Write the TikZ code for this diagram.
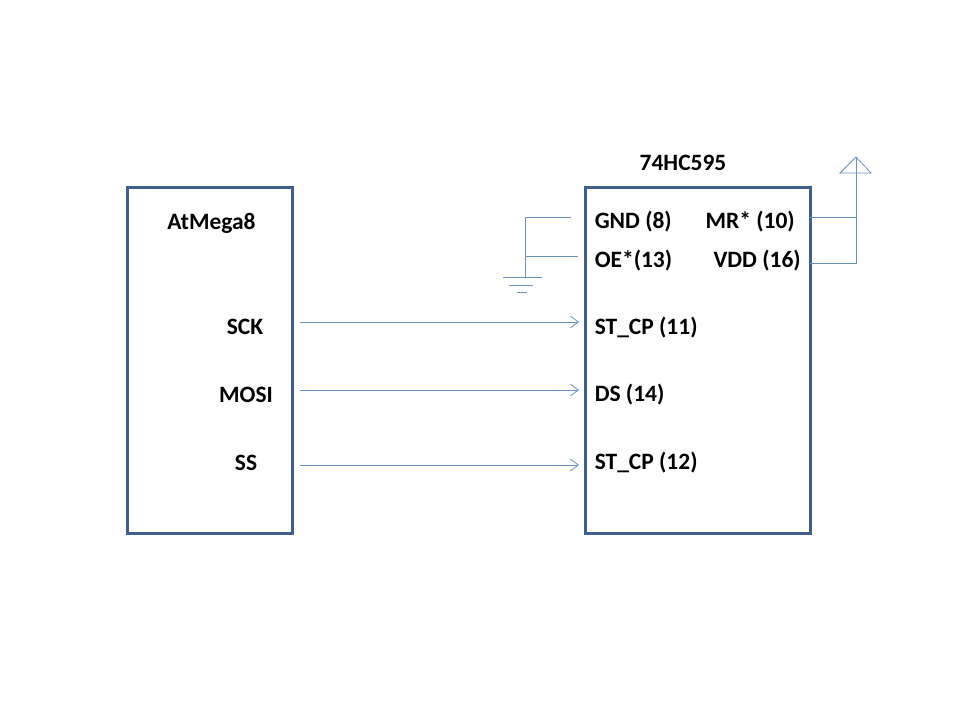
\documentclass[tikz,border=0pt]{standalone}
\usepackage{fontspec}
\setmainfont{Carlito}
\usepackage{tikz}
\usetikzlibrary{arrows.meta}
\definecolor{boxblue}{HTML}{3F5F8F}
\definecolor{wireblue}{HTML}{6A90BF}
\tikzset{
  chipbox/.style={draw=boxblue, line width=2.25pt, minimum height=259.5pt, inner sep=0pt},
  pinlabel/.style={font=\fontsize{17.6}{20}\selectfont\bfseries, inner sep=0pt},
  wire/.style={draw=wireblue, line width=0.6pt},
  signal/.style={wire, -{Straight Barb[length=6pt,width=9pt]}}
}

\begin{document}
\begin{tikzpicture}[x=0.75pt, y=-0.75pt]
        \useasboundingbox (0,0) rectangle (960,720);
        % the two chips
        \node[chipbox, minimum width=123.75pt] (atmega) at (209.5,360.5) {};
        \node[chipbox, minimum width=168.75pt] (shiftreg) at (697.5,360.5) {};
        % labels, left chip
        \node[pinlabel] (atmeganame) at (211.5,223) {AtMega8};
        \node[pinlabel] (sck) at (245,327) {SCK};
        \node[pinlabel] (mosi) at (246,395) {MOSI};
        \node[pinlabel] (ss) at (246,463) {SS};
        % labels, right chip
        \node[pinlabel] (shiftname) at (683,163) {74HC595};
        \node[pinlabel, anchor=west] (gnd) at (594.5,222) {GND (8)};
        \node[pinlabel, anchor=west] (oe) at (594.5,261) {OE*(13)};
        \node[pinlabel, anchor=east] (mr) at (795,222) {MR* (10)};
        \node[pinlabel, anchor=east] (vdd) at (801,261) {VDD (16)};
        \node[pinlabel, anchor=west] (stcpa) at (594.5,328) {ST\_CP (11)};
        \node[pinlabel, anchor=west] (ds) at (594.5,395) {DS (14)};
        \node[pinlabel, anchor=west] (stcpb) at (594.5,463) {ST\_CP (12)};
        % wire ends
        \coordinate (sckout) at (300,322);
        \coordinate (sckin) at (579,322);
        \coordinate (mosiout) at (300,390);
        \coordinate (mosiin) at (579,390);
        \coordinate (ssout) at (300,465);
        \coordinate (ssin) at (579,465);
        \coordinate (gndend) at (571,217);
        \coordinate (gndcorner) at (525,217);
        \coordinate (oeend) at (578,256);
        \coordinate (oejoin) at (525,256);
        \coordinate (earth) at (525,277);
        \coordinate (mrend) at (810,217);
        \coordinate (mrjoin) at (856,217);
        \coordinate (vddend) at (810,263);
        \coordinate (vddcorner) at (856,263);
        \coordinate (supplytop) at (856,157);
        \coordinate (supplyleft) at (840,173);
        \coordinate (supplyright) at (871,173);
        % signals
        \draw[signal] (sckout) -- (sckin);
        \draw[signal] (mosiout) -- (mosiin);
        \draw[signal] (ssout) -- (ssin);
        % ground
        \draw[wire] (gndend) -- (gndcorner) -- (earth);
        \draw[wire] (oeend) -- (oejoin);
        \draw[wire] (503,277) -- (542,277);
        \draw[wire] (509,285) -- (533,285);
        \draw[wire] (517,292) -- (527,292);
        % supply
        \draw[wire] (vddend) -- (vddcorner) -- (supplytop);
        \draw[wire] (mrend) -- (mrjoin);
        \draw[wire] (supplyleft) -- (supplytop) -- (supplyright) -- cycle;
\end{tikzpicture}
\end{document}
